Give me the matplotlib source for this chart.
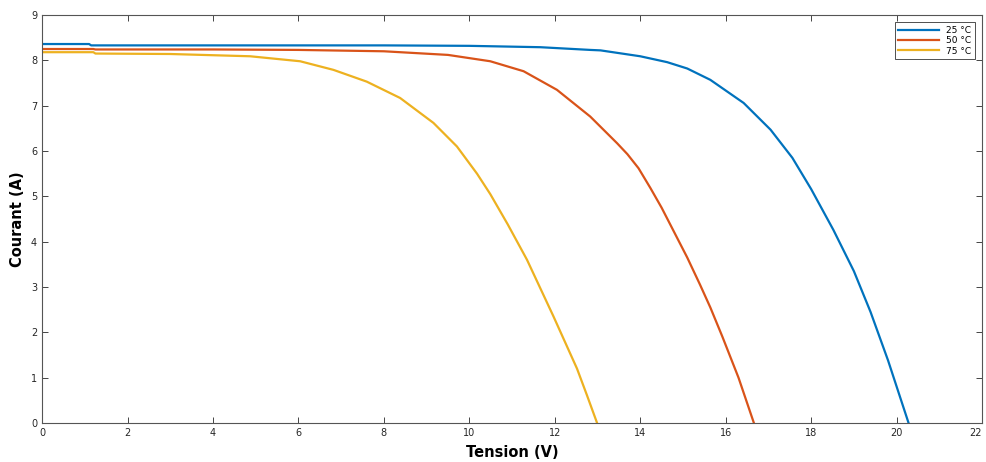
import numpy as np
import matplotlib.pyplot as plt

# tension (V) / courant (A)
v_25 = [0, 1.1, 1.15, 8, 10, 11.66, 12.83, 13.07, 14.0, 14.63, 15.1, 15.64, 16.42, 17.05, 17.56,
        18.0, 18.52, 19.0, 19.39, 19.8, 20.28]
i_25 = [8.36, 8.36, 8.33, 8.33, 8.32, 8.29, 8.23, 8.22, 8.09, 7.96, 7.82, 7.57, 7.06, 6.47, 5.85,
        5.16, 4.26, 3.35, 2.45, 1.38, 0.0]

v_50 = [0, 1.2, 1.25, 4, 6, 8, 9.5, 10.49, 11.27, 12.05, 12.83, 13.46, 13.7, 13.96, 14.24, 14.5,
        14.8, 15.1, 15.4, 15.64, 15.92, 16.3, 16.66]
i_50 = [8.25, 8.25, 8.24, 8.24, 8.23, 8.2, 8.12, 7.98, 7.76, 7.35, 6.76, 6.17, 5.93, 5.62, 5.18,
        4.75, 4.2, 3.65, 3.05, 2.55, 1.91, 1.0, 0.0]

v_75 = [0, 1.2, 1.25, 3, 4.87, 6.04, 6.82, 7.6, 8.38, 9.16, 9.71, 10.18, 10.49, 10.9, 11.35,
        11.97, 12.52, 12.75, 12.99]
i_75 = [8.18, 8.18, 8.15, 8.14, 8.09, 7.98, 7.79, 7.53, 7.17, 6.62, 6.1, 5.5, 5.05, 4.38, 3.6,
        2.35, 1.2, 0.62, 0.0]

labels = ['25 °C', '50 °C', '75 °C']
colors = ['#0072BD', '#D95319', '#EDB120']

fig = plt.figure(figsize=(9.87, 4.62), dpi=100)
ax = fig.add_axes([0.0426, 0.0844, 0.9524, 0.8831])

for v, i, lab, c in zip([v_25, v_50, v_75], [i_25, i_50, i_75], labels, colors):
    ax.plot(v, i, color=c, lw=1.6, label=lab)

ax.set_xlim(0, 22)
ax.set_ylim(0, 9)
ax.set_xticks(np.arange(0, 23, 2))
ax.set_yticks(np.arange(0, 10, 1))
ax.tick_params(direction='in', top=True, right=True, labelsize=7, colors='#262626',
               length=4, width=0.6)
ax.get_xticklabels()[-1].set_horizontalalignment('right')
for s in ax.spines.values():
    s.set_color('#555555')
    s.set_linewidth(0.8)

ax.set_xlabel('Tension (V)', fontsize=10.5, fontweight='bold', labelpad=5)
ax.set_ylabel('Courant (A)', fontsize=10.5, fontweight='bold', labelpad=4)

leg = ax.legend(loc='upper right', fontsize=6.5, fancybox=False, framealpha=1,
                edgecolor='#333333', handlelength=4.5, borderpad=0.4, labelspacing=0.15,
                borderaxespad=0.8)
leg.get_frame().set_linewidth(0.6)

fig.savefig('out.png', dpi=100)
